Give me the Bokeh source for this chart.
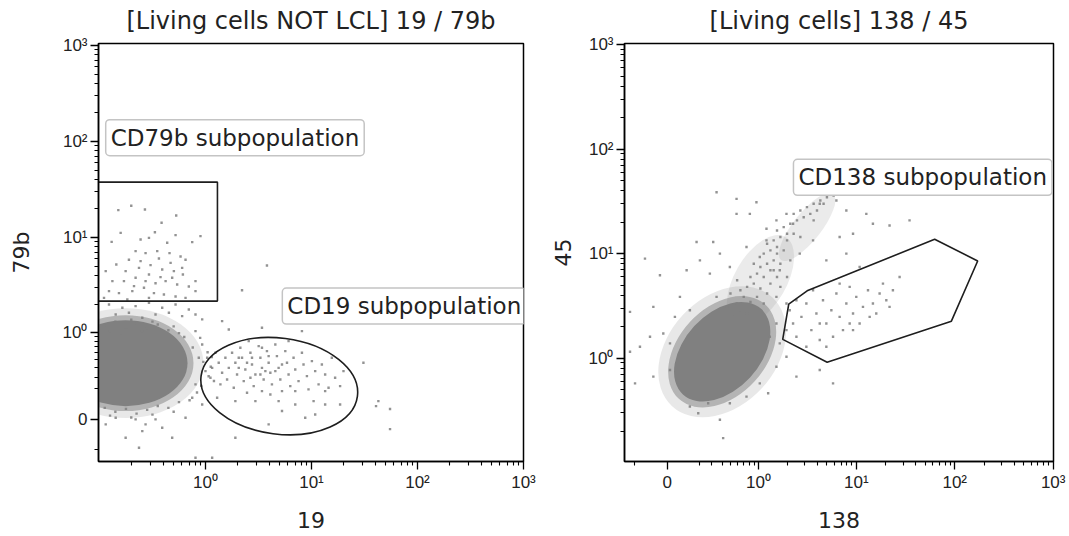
import numpy as np
from bokeh.plotting import figure
from bokeh.models import Range1d, FixedTicker, CustomJSTickFormatter, Label
from bokeh.layouts import row
from bokeh.embed import file_html
from bokeh.resources import INLINE

# ---------------- axis transforms (display in decades) ----------------
LN10 = np.log(10.0)
LEFT_Y_C = 0.127     # biexponential width parameter, left plot y (79b)
RIGHT_X_C = 0.1203   # biexponential width parameter, right plot x (138)


def biex(v, c):
    v = np.asarray(v, dtype=float)
    return np.arcsinh(v / (2 * c)) / LN10 + np.log10(c)


def logt(v):
    return np.log10(np.asarray(v, dtype=float))


major_vals_log = [1, 10, 100, 1000]
major_labels_log = ["10⁰", "10¹", "10²", "10³"]
major_vals_biex = [0, 1, 10, 100, 1000]
major_labels_biex = ["0", "10⁰", "10¹", "10²", "10³"]
minor_vals = [k * 10.0 ** n for n in (-1, 0, 1, 2) for k in range(2, 10)]
neg_minor_vals = [-0.2]

# ---------------- data (display coordinates, decades) ----------------
# Left plot: 19 (x, log display) vs 79b (y, biexponential display)
left_title = "[Living cells NOT LCL] 19 / 79b"
left_xlabel = "19"
left_ylabel = "79b"

# dense core of the negative population: centre, widths/heights of density levels
left_core_x = [-0.753]
left_core_y = [-0.313]
left_core_w = [1.167, 1.280, 1.468]
left_core_h = [0.897, 1.001, 1.147]

cd79b_events = [
    (-0.822, 1.283), (-0.700, 1.328), (-0.571, 1.290), (-0.276, 1.227), (-0.414, 1.151),
    (-0.477, 1.053), (-0.533, 0.994), (-0.612, 0.977), (-0.800, 1.046), (-0.885, 0.952),
    (-0.361, 0.942), (-0.282, 1.022), (-0.125, 0.949), (-0.047, 1.012), (-0.659, 0.855),
    (-0.565, 0.834), (-0.455, 0.855), (-0.339, 0.834), (-0.235, 0.799), (-0.188, 0.765),
    (-0.722, 0.765), (-0.841, 0.716), (-0.941, 0.647), (-0.753, 0.647), (-0.627, 0.681),
    (-0.518, 0.709), (-0.408, 0.664), (-0.298, 0.647), (-0.213, 0.612), (-0.094, 0.542),
    (-0.878, 0.542), (-0.769, 0.542), (-0.659, 0.577), (-0.565, 0.542), (-0.471, 0.521),
    (-0.376, 0.542), (-0.267, 0.508), (-0.157, 0.487), (-0.910, 0.438), (-0.816, 0.417),
    (-0.690, 0.438), (-0.580, 0.473), (-0.486, 0.417), (-0.392, 0.403), (-0.282, 0.382),
    (-0.188, 0.368), (-0.094, 0.438), (-0.957, 0.368), (-0.533, 0.368), (-0.737, 0.351),
    (-0.612, 0.751), (-0.439, 0.779), (-0.329, 0.733), (-0.533, 0.612), (-0.424, 0.584),
    (-0.314, 0.577), (-0.674, 0.490), (-0.220, 0.681),
]

cd19_events = [
    (0.016, -0.257), (0.063, -0.362), (0.047, -0.466), (0.094, -0.205), (0.125, -0.309),
    (0.157, -0.414), (0.141, -0.535), (0.188, -0.257), (0.220, -0.362), (0.204, -0.483),
    (0.251, -0.205), (0.282, -0.309), (0.298, -0.431), (0.267, -0.570), (0.329, -0.153),
    (0.345, -0.257), (0.376, -0.379), (0.361, -0.501), (0.392, -0.622), (0.424, -0.205),
    (0.439, -0.327), (0.471, -0.431), (0.455, -0.553), (0.502, -0.136), (0.518, -0.257),
    (0.533, -0.362), (0.549, -0.483), (0.533, -0.605), (0.580, -0.188), (0.596, -0.309),
    (0.612, -0.414), (0.627, -0.535), (0.659, -0.118), (0.674, -0.240), (0.690, -0.362),
    (0.706, -0.483), (0.722, -0.605), (0.753, -0.188), (0.769, -0.309), (0.784, -0.431),
    (0.800, -0.553), (0.831, -0.257), (0.847, -0.379), (0.878, -0.501), (0.910, -0.205),
    (0.925, -0.327), (0.957, -0.448), (0.972, -0.587), (1.004, -0.292), (1.035, -0.396),
    (1.067, -0.535), (1.098, -0.327), (1.129, -0.431), (1.161, -0.570), (1.020, -0.709),
    (1.223, -0.466), (1.270, -0.553), (1.302, -0.396), (1.129, -0.744), (0.847, -0.744),
    (0.690, -0.709), (0.471, -0.709), (0.282, -0.709), (0.722, -0.813), (0.941, -0.883),
    (0.596, -0.952), (1.192, -0.257), (0.784, -0.083), (0.408, -0.083), (0.110, -0.674),
    (0.533, -0.153), (0.314, -0.362), (0.424, -0.466), (0.612, -0.640), (0.847, -0.605),
    (1.129, -0.605), (1.270, -0.744), (1.035, -0.848), (0.439, -0.257), (0.565, -0.396),
    (0.392, -0.309), (0.659, -0.396), (0.518, -0.431), (0.314, -0.257), (0.596, -0.240),
    (0.722, -0.327),
]

left_other_events = [
    (-0.910, 0.299), (-0.784, 0.264), (-0.659, 0.282), (-0.533, 0.316), (-0.408, 0.264),
    (-0.282, 0.299), (-0.157, 0.247), (-0.847, 0.195), (-0.722, 0.212), (-0.471, 0.195),
    (-0.345, 0.212), (-0.220, 0.177), (-0.094, 0.195), (-0.596, 0.160), (-0.031, 0.143),
    (-0.659, -0.900), (-0.565, -0.952), (-0.471, -0.900), (-0.596, -1.022), (-0.847, -0.883),
    (-0.408, -0.987), (-0.314, -1.091), (-0.627, -1.196), (-0.094, -1.300), (0.063, -1.300),
    (0.282, -1.091), (-0.188, -0.883), (-0.753, -1.091), (-0.941, -0.952),
    (0.580, 0.706), (0.345, 0.448), (1.631, -0.709), (1.490, -0.309), (0.157, 0.125),
    (0.220, 0.038), (0.533, 0.056), (0.910, 0.021), (1.609, -0.761), (1.741, -0.792),
    (1.741, -1.001),
    (-0.094, 0.021), (-0.031, -0.118), (-0.063, -0.257), (0.000, -0.396), (-0.094, -0.535),
    (-0.125, -0.674), (-0.031, -0.744),
    (-0.95, 0.08), (-0.85, 0.12), (-0.75, 0.06), (-0.65, 0.10), (-0.55, 0.05), (-0.45, 0.09),
    (-0.35, 0.03), (-0.25, 0.00), (-0.90, 0.02), (-0.70, 0.14), (-0.50, 0.12), (-0.30, 0.07),
    (-0.20, -0.04), (-0.60, 0.02), (-0.80, 0.00),
    (-0.05, -0.05), (0.02, -0.20), (-0.02, -0.30), (0.05, -0.35), (0.03, -0.45), (-0.04, -0.55),
    (0.06, -0.25), (-0.08, -0.62), (0.08, -0.50), (-0.12, -0.15), (-0.15, -0.70),
    (-0.95, -0.78), (-0.85, -0.82), (-0.75, -0.79), (-0.65, -0.84), (-0.55, -0.80),
    (-0.45, -0.76), (-0.35, -0.78), (-0.25, -0.72), (-0.90, -0.86), (-0.70, -0.88),
    (-0.50, -0.85), (-0.30, -0.82),
]

# gates (left)
cd79b_gate_left, cd79b_gate_right = -1.10, 0.113
cd79b_gate_bottom, cd79b_gate_top = 0.334, 1.575
cd19_gate_x, cd19_gate_y = 0.696, -0.553
cd19_gate_w, cd19_gate_h, cd19_gate_angle = 1.487, 1.001, -0.13
cd79b_label_pos = (-0.941, 2.039)
cd19_label_pos = (0.725, 0.282)

# Right plot: 138 (x, biexponential display) vs 45 (y, log display)
right_title = "[Living cells] 138 / 45"
right_xlabel = "138"
right_ylabel = "45"

right_core_x = [-0.362]
right_core_y = [0.060]
right_core_w = [1.178, 1.300, 1.503]
right_core_h = [0.726, 0.840, 1.031]
right_core_angle = 0.827

right_arm_x = [0.027, 0.501]
right_arm_y = [0.745, 1.254]
right_arm_w = [1.015, 0.853]
right_arm_h = [0.497, 0.267]
right_arm_angle = [1.047, 0.90]

right_arm_events = [
    (-0.244, 0.394), (-0.177, 0.458), (-0.109, 0.426), (-0.041, 0.490), (-0.210, 0.522),
    (-0.143, 0.585), (-0.075, 0.537), (-0.008, 0.585), (0.060, 0.522), (-0.177, 0.649),
    (-0.109, 0.681), (-0.041, 0.712), (0.026, 0.665), (0.094, 0.617), (0.128, 0.712),
    (-0.075, 0.776), (-0.008, 0.808), (0.060, 0.776), (0.128, 0.840), (0.195, 0.776),
    (0.026, 0.871), (0.094, 0.903), (0.161, 0.935), (0.229, 0.903), (-0.041, 0.903),
    (0.060, 0.999), (0.128, 1.030), (0.195, 0.999), (0.263, 1.030), (0.094, 1.094),
    (0.161, 1.126), (0.229, 1.158), (0.297, 1.126), (0.364, 1.189), (0.195, 1.221),
    (0.263, 1.253), (0.330, 1.285), (0.398, 1.317), (0.466, 1.348), (0.364, 1.380),
    (0.432, 1.412), (0.499, 1.444), (0.567, 1.476), (0.635, 1.507), (0.533, 1.380),
    (0.601, 1.412), (0.668, 1.476), (0.702, 1.539), (0.770, 1.555), (0.567, 1.317),
    (0.297, 1.189), (0.161, 0.840), (0.229, 0.681), (0.297, 0.776), (-0.210, 0.744),
    (-0.278, 0.617), (-0.312, 0.490), (0.195, 1.062), (0.330, 0.935), (0.432, 1.158),
]

right_other_events = [
    (-1.298, 0.442), (-1.146, 0.951), (-1.061, 0.490), (-0.994, 0.792), (-0.842, 0.394),
    (-0.960, 0.235), (-1.095, 0.204), (-1.197, 0.108), (-1.298, 0.060), (-1.247, -0.242),
    (-1.061, -0.178), (-0.892, -0.114), (-0.808, 0.013), (-0.892, 0.140), (-0.690, -0.464),
    (-0.605, -0.528), (-0.385, -0.591), (-0.352, -0.766), (-0.504, -0.432), (-0.284, -0.432),
    (-0.115, -0.369), (0.020, -0.242), (0.105, -0.337), (0.189, -0.083), (0.291, 0.013),
    (0.392, -0.178), (0.629, -0.114), (0.764, -0.242), (-0.622, 1.110), (-0.453, 1.110),
    (-0.588, 0.935), (-0.723, 0.840), (-0.791, 0.585), (-0.690, 0.458), (-0.487, 0.808),
    (-0.419, 0.585),
    (-0.216, 1.380), (-0.081, 1.380), (0.088, 1.237), (0.189, 1.317), (0.291, 1.380),
    (0.358, 1.285), (0.629, 1.476), (0.798, 1.507), (0.899, 1.412), (0.967, 1.189),
    (1.102, 1.380), (1.169, 1.285), (1.338, 1.269), (1.541, 1.317), (0.696, 0.935),
    (0.899, 0.999), (1.034, 0.871), (0.831, 1.158), (0.561, 1.126), (0.426, 0.999),
    (0.088, 1.126), (0.223, 0.840), (0.020, 0.967), (-0.115, 1.062), (-0.284, 0.871),
    (-0.385, 0.999), (-0.419, 1.587), (-0.216, 1.523), (-0.014, 1.491),
    (0.189, 0.331), (0.223, 0.140), (0.122, 0.204), (0.291, 0.522), (0.189, 0.585),
]

cd138_events = [
    (0.324, 0.458), (0.358, 0.331), (0.392, 0.204), (0.443, 0.394), (0.493, 0.522),
    (0.544, 0.267), (0.595, 0.426), (0.629, 0.172), (0.662, 0.553), (0.696, 0.331),
    (0.747, 0.458), (0.798, 0.617), (0.831, 0.394), (0.865, 0.267), (0.899, 0.522),
    (0.933, 0.681), (0.967, 0.426), (1.000, 0.585), (1.034, 0.331), (1.068, 0.490),
    (1.119, 0.649), (1.169, 0.522), (1.203, 0.426), (1.237, 0.617), (1.271, 0.712),
    (1.305, 0.553), (1.338, 0.490), (1.372, 0.649), (1.440, 0.776), (0.696, 0.108),
    (0.493, 0.108), (0.291, 0.267), (0.561, 0.649), (0.764, 0.204), (0.967, 0.267),
    (1.136, 0.394), (0.831, 0.712), (0.392, 0.553), (0.629, 0.331), (0.933, 0.331),
]

cd138_gate_x = [1.796, 2.233, 1.966, 0.704, 0.253, 0.314, 0.501]
cd138_gate_y = [1.137, 0.929, 0.353, -0.041, 0.179, 0.516, 0.643]
cd138_label_pos = (0.362, 1.729)

# ---------------- styling ----------------
EVENT_COLOR = "#808080"
GATE_COLOR = "#1e1e1e"
CLOUD_ALPHAS = [1.0, 0.5, 0.18]


def make_formatter(pos, labels):
    return CustomJSTickFormatter(
        args=dict(pos=[float(p) for p in pos], lab=labels),
        code="""
        for (let i = 0; i < pos.length; i++) {
            if (Math.abs(tick - pos[i]) < 1e-6) { return lab[i]; }
        }
        return "";
        """,
    )


def style_axis(ax, major_pos, minor_pos, labels, label_standoff):
    ax.ticker = FixedTicker(ticks=[float(v) for v in major_pos],
                            minor_ticks=[float(v) for v in minor_pos])
    ax.formatter = make_formatter(major_pos, labels)
    ax.axis_line_color = "black"
    ax.axis_line_width = 1.5
    ax.major_tick_line_color = "black"
    ax.major_tick_line_width = 1.3
    ax.major_tick_out = 8
    ax.major_tick_in = 0
    ax.minor_tick_line_color = "black"
    ax.minor_tick_line_width = 1.1
    ax.minor_tick_out = 4
    ax.minor_tick_in = 0
    ax.major_label_standoff = 3
    ax.major_label_text_font = "Liberation Sans"
    ax.major_label_text_font_size = "17px"
    ax.major_label_text_color = "#222222"
    ax.axis_label_text_font = "DejaVu Sans"
    ax.axis_label_text_font_size = "22px"
    ax.axis_label_text_font_style = "normal"
    ax.axis_label_text_color = "#222222"
    ax.axis_label_standoff = label_standoff


def make_fig(title, xr, yr, fw, bl, br):
    p = figure(frame_width=fw, frame_height=418, x_range=Range1d(*xr), y_range=Range1d(*yr),
               output_backend="svg", toolbar_location=None, title=title,
               min_border_left=bl, min_border_right=br, min_border_top=43, min_border_bottom=75)
    p.title.text_font = "DejaVu Sans"
    p.title.text_font_size = "24px"
    p.title.text_font_style = "normal"
    p.title.text_color = "#222222"
    p.title.align = "center"
    p.title.vertical_align = "top"
    p.title.standoff = 13
    p.grid.visible = False
    p.outline_line_color = "black"
    p.outline_line_width = 1.5
    p.outline_line_alpha = 1.0
    p.background_fill_color = "white"
    p.border_fill_color = "white"
    return p


def add_label(p, pos, text):
    p.add_layout(Label(x=pos[0], y=pos[1], text=text, text_font="DejaVu Sans",
                       text_font_size="23px", text_color="#222222", text_align="left",
                       text_baseline="middle", background_fill_color="white",
                       border_line_color="#c4c4c4", border_line_width=1.5,
                       padding=5, border_radius=4))


def add_events(p, events, alpha=0.85):
    xs = [e[0] for e in events]
    ys = [e[1] for e in events]
    p.scatter(xs, ys, marker="square", size=2.4, fill_color=EVENT_COLOR,
              line_color=None, fill_alpha=alpha)


# ---------------- left plot ----------------
p1 = make_fig(left_title, (-1.009, 3.0), (-1.339, 3.021), 425, 98, 26)
p1.xaxis.axis_label = left_xlabel
p1.yaxis.axis_label = left_ylabel
style_axis(p1.xaxis[0], logt(major_vals_log), logt(minor_vals), major_labels_log, 17)
style_axis(p1.yaxis[0], biex(major_vals_biex, LEFT_Y_C),
           biex(neg_minor_vals + minor_vals, LEFT_Y_C), major_labels_biex, 26)

for w, h, a in reversed(list(zip(left_core_w, left_core_h, CLOUD_ALPHAS))):
    p1.ellipse(x=left_core_x, y=left_core_y, width=w, height=h, fill_color=EVENT_COLOR,
               fill_alpha=a, line_color=None)
add_events(p1, left_other_events)
add_events(p1, cd79b_events)
add_events(p1, cd19_events)

p1.quad(left=[cd79b_gate_left], right=[cd79b_gate_right], bottom=[cd79b_gate_bottom],
        top=[cd79b_gate_top], fill_color=None, line_color=GATE_COLOR, line_width=1.6)
p1.ellipse(x=[cd19_gate_x], y=[cd19_gate_y], width=cd19_gate_w, height=cd19_gate_h,
           angle=cd19_gate_angle, fill_color=None, line_color=GATE_COLOR, line_width=1.6)
add_label(p1, cd79b_label_pos, "CD79b subpopulation")
add_label(p1, cd19_label_pos, "CD19 subpopulation")

# ---------------- right plot ----------------
p2 = make_fig(right_title, (-1.354, 3.003), (-0.99, 3.01), 429, 75, 16)
p2.xaxis.axis_label = right_xlabel
p2.yaxis.axis_label = right_ylabel
style_axis(p2.xaxis[0], biex(major_vals_biex, RIGHT_X_C),
           biex(neg_minor_vals + minor_vals, RIGHT_X_C), major_labels_biex, 17)
style_axis(p2.yaxis[0], logt(major_vals_log), logt(minor_vals), major_labels_log, 15)

p2.ellipse(x=right_arm_x, y=right_arm_y, width=right_arm_w, height=right_arm_h,
           angle=right_arm_angle, fill_color=EVENT_COLOR, fill_alpha=0.16, line_color=None)
for w, h, a in reversed(list(zip(right_core_w, right_core_h, CLOUD_ALPHAS))):
    p2.ellipse(x=right_core_x, y=right_core_y, width=w, height=h, angle=right_core_angle,
               fill_color=EVENT_COLOR, fill_alpha=a, line_color=None)
add_events(p2, right_arm_events)
add_events(p2, right_other_events)
add_events(p2, cd138_events)

p2.patch(cd138_gate_x, cd138_gate_y, fill_color=None, line_color=GATE_COLOR, line_width=1.6)
add_label(p2, cd138_label_pos, "CD138 subpopulation")

layout = row(p1, p2)
open("out.html", "w").write(file_html(layout, INLINE))
